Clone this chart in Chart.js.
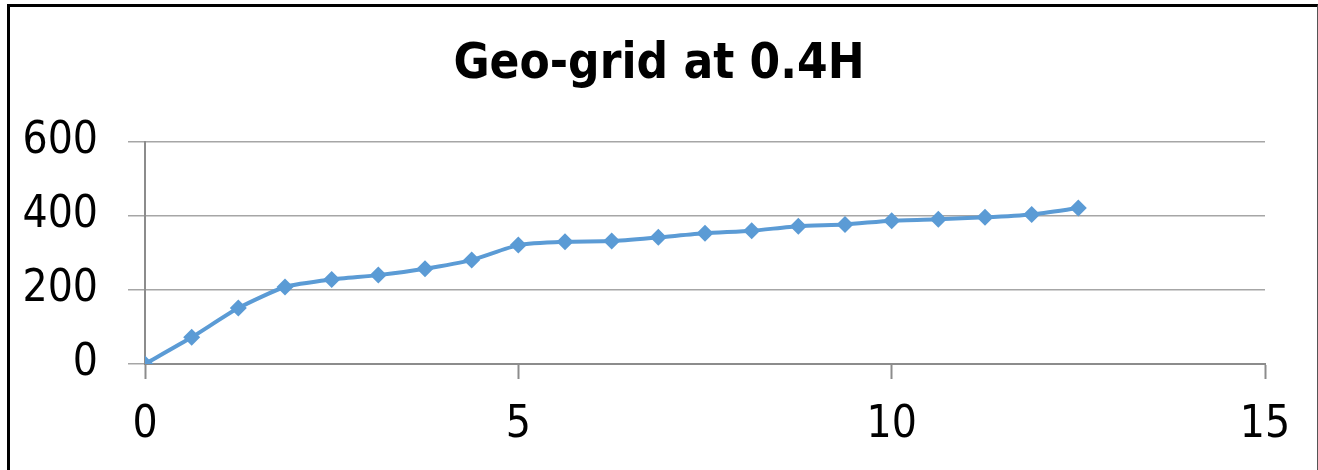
<!DOCTYPE html>
<html>
<head>
<meta charset="utf-8">
<script src="https://cdn.jsdelivr.net/npm/chart.js@4"></script>
<style>
  html, body { margin: 0; padding: 0; background: #fff; }
  #wrap { position: relative; width: 1318px; height: 470px; }
  #frame {
    position: absolute; left: 7px; top: 4px; width: 1307px; height: 463px;
    border-top: 3px solid #000; border-left: 3px solid #000;
    border-right: 1px solid #555; border-bottom: 1px solid #555;
    pointer-events: none;
  }
  canvas { position: absolute; left: 0; top: 0; }
</style>
</head>
<body>
<div id="wrap">
  <canvas id="chart" width="1318" height="470"></canvas>
  <div id="frame"></div>
</div>
<script>
const FONT = "'Liberation Sans Narrow', 'DejaVu Sans Condensed', 'Arial Narrow', sans-serif";

const chartTitle = "Geo-grid at 0.4H";
const xValues = [0, 0.625, 1.25, 1.875, 2.5, 3.125, 3.75, 4.375, 5, 5.625, 6.25,
                 6.875, 7.5, 8.125, 8.75, 9.375, 10, 10.625, 11.25, 11.875, 12.5];
const yValues = [0, 72, 151, 208, 228, 240, 257, 281, 321, 330, 332,
                 342, 353, 360, 372, 377, 387, 391, 396, 404, 421];
const xTicks = [0, 5, 10, 15];
const yTicks = [0, 200, 400, 600];

const points = xValues.map((x, i) => ({ x, y: yValues[i] }));

new Chart(document.getElementById("chart"), {
  type: "scatter",
  data: {
    datasets: [{
      data: points,
      showLine: true,
      borderColor: "#5B9BD5",
      backgroundColor: "#5B9BD5",
      borderWidth: 4,
      tension: 0.2,
      pointStyle: "rectRot",
      pointRadius: 8.5,
      pointHoverRadius: 8.5,
      pointBorderWidth: 0,
    }],
  },
  options: {
    responsive: false,
    animation: false,
    layout: { padding: 0 },
    plugins: {
      legend: { display: false },
      tooltip: { enabled: false },
      title: {
        display: true,
        text: chartTitle,
        color: "#000",
        font: { family: FONT, size: 49, weight: "bold" },
        padding: { top: 36, bottom: 47 },
      },
    },
    scales: {
      x: {
        type: "linear",
        min: 0,
        max: 15,
        afterBuildTicks: (scale) => { scale.ticks = xTicks.map((v) => ({ value: v })); },
        afterFit: (scale) => { scale.height = 106; },
        grid: {
          drawOnChartArea: false,
          drawTicks: true,
          tickLength: 15,
          tickWidth: 2,
          tickColor: "#8c8c8c",
        },
        border: { color: "#8c8c8c", width: 2 },
        ticks: {
          color: "#000",
          padding: 20,
          maxRotation: 0,
          font: { family: FONT, size: 44 },
        },
      },
      y: {
        min: 0,
        max: 600,
        afterBuildTicks: (scale) => { scale.ticks = yTicks.map((v) => ({ value: v })); },
        afterFit: (scale) => { scale.width = 145; },
        grid: {
          color: "#a6a6a6",
          lineWidth: 1.5,
          drawTicks: true,
          tickLength: 17,
        },
        border: { color: "#8c8c8c", width: 2 },
        ticks: {
          color: "#000",
          padding: 30,
          font: { family: FONT, size: 44 },
        },
      },
      // empty right-hand strip so the title stays centred on the whole canvas
      spacer: {
        position: "right",
        afterFit: (scale) => { scale.width = 53; },
        grid: { display: false },
        border: { display: false },
        ticks: { display: false },
      },
    },
  },
});
</script>
</body>
</html>
